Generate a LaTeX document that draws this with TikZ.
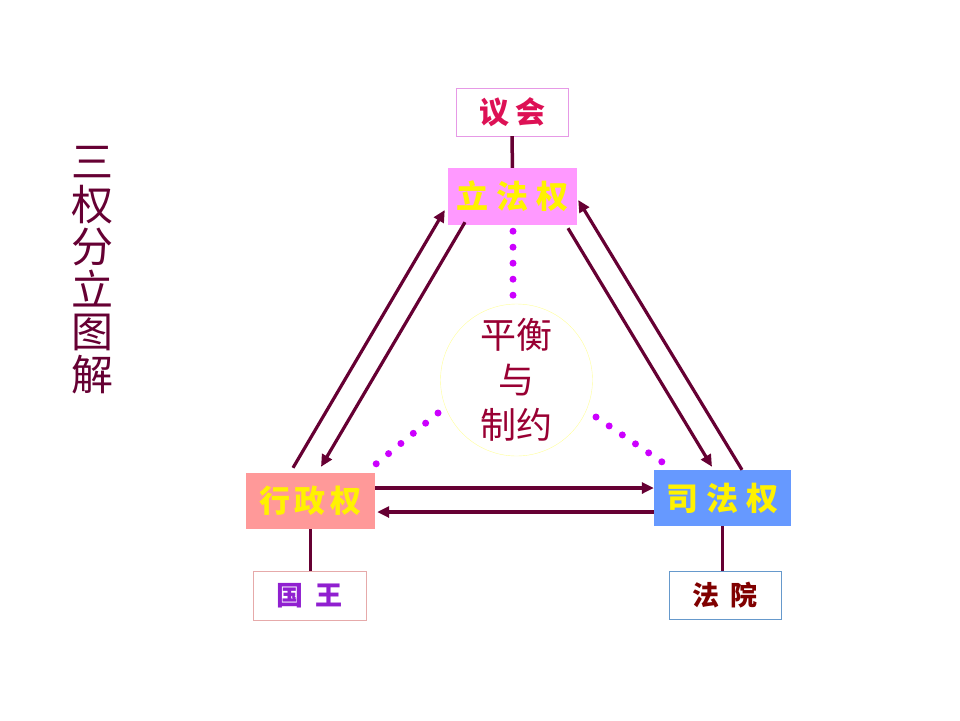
\documentclass[tikz,border=0pt]{standalone}
\usepackage{fontspec}
\setmainfont{Noto Sans CJK SC}
\usetikzlibrary{arrows.meta,calc}
\definecolor{wine}{RGB}{102,0,51}
\definecolor{lifacol}{RGB}{255,153,255}
\definecolor{xingcol}{RGB}{255,153,153}
\definecolor{sicol}{RGB}{102,153,255}
\definecolor{dotcol}{RGB}{204,0,255}
\definecolor{yihuiline}{RGB}{230,153,230}
\definecolor{yihuitext}{RGB}{221,17,85}
\definecolor{guowangline}{RGB}{230,170,170}
\definecolor{guowangtext}{RGB}{144,32,208}
\definecolor{fayuanline}{RGB}{102,153,204}
\definecolor{fayuantext}{RGB}{128,0,0}
\definecolor{ringline}{RGB}{255,255,153}
\definecolor{ringtext}{RGB}{153,0,51}
\begin{document}
\begin{tikzpicture}[x=1pt,y=-1pt,
  power/.style={inner sep=0pt, minimum height=57pt, text=yellow, font=\fontsize{32}{32}\selectfont\bfseries},
  org/.style={fill=white, inner sep=0pt, minimum width=112pt, minimum height=48pt, font=\fontsize{27}{27}\selectfont\bfseries},
  link/.style={draw=wine, line width=3.5pt},
  flow/.style={draw=wine, line width=3.2pt, -{Triangle[length=12pt,width=11pt]}}]
  \useasboundingbox (0,0) rectangle (960,720);
  % title
  \node[text=wine, align=center, font=\fontsize{42}{42.5}\selectfont] (title) at (92.5,270) {三\\权\\分\\立\\图\\解};
  % the three powers
  \node[power, fill=lifacol, minimum width=129pt] (lifa) at (512.5,196.5) {立\hspace{8pt}法\hspace{8pt}权};
  \node[power, fill=xingcol, minimum width=129pt, minimum height=56pt, font=\fontsize{31}{31}\selectfont\bfseries] (xing) at (310.5,501) {行\hspace{5pt}政\hspace{5pt}权};
  \node[power, fill=sicol, minimum width=137pt, minimum height=56pt] (si) at (722.5,498) {司\hspace{8pt}法\hspace{8pt}权};
  % who holds them
  \node[org, draw=yihuiline, text=yihuitext, font=\fontsize{30}{30}\selectfont\bfseries] (yihui) at (512,112) {议\hspace{6pt}会};
  \node[org, draw=guowangline, text=guowangtext, minimum width=113pt, minimum height=49pt] (guowang) at (309.5,595.5) {国\hspace{12pt}王};
  \node[org, draw=fayuanline, text=fayuantext] (fayuan) at (725,595) {法\hspace{12pt}院};
  % centre
  \node[circle, draw=ringline, minimum size=152pt, inner sep=0pt, align=center, text=ringtext, font=\fontsize{36}{45}\selectfont] (ph) at (516.5,380) {平衡\\与\\制约};

  \draw[link] (yihui) -- (lifa);
  \draw[link] (xing.south) -- (xing.south |- guowang.north);
  \draw[link] (si.south) -- (si.south |- fayuan.north);

  \draw[flow] ([shift={(-17.5,-5)}]xing.north) -- ([shift={(-3,13.5)}]lifa.west);
  \draw[flow] ([shift={(-47.5,-3)}]lifa.south) -- ([shift={(10.5,-6)}]xing.north);
  \draw[flow] ([shift={(55.5,3)}]lifa.south) -- ([shift={(-10.5,-3)}]si.north);
  \draw[flow] ([shift={(19.5,0)}]si.north) -- ([shift={(1,3.5)}]lifa.east);
  \draw[flow] ([shift={(0,-13)}]xing.east) -- ([shift={(0,-10)}]si.west);
  \draw[flow] ([shift={(0,14)}]si.west) -- ([shift={(2,11)}]xing.east);

  % dotted ties to the centre
  \coordinate (up1) at ([shift={(0.5,6)}]lifa.south);
  \coordinate (up2) at ([shift={(0.5,70)}]lifa.south);
  \coordinate (lt1) at ([shift={(1,-9)}]xing.north east);
  \coordinate (lt2) at ([shift={(-78.5,33)}]ph.center);
  \coordinate (rt1) at ([shift={(79.5,37)}]ph.center);
  \coordinate (rt2) at ([shift={(8,-8)}]si.north west);
  \foreach \i in {0,...,4}
    \fill[dotcol] ($(up1)!\i/4!(up2)$) circle (3.5);
  \foreach \i in {0,...,5} {
    \fill[dotcol] ($(lt1)!\i/5!(lt2)$) circle (3.5);
    \fill[dotcol] ($(rt1)!\i/5!(rt2)$) circle (3.5);
  }
\end{tikzpicture}
\end{document}
